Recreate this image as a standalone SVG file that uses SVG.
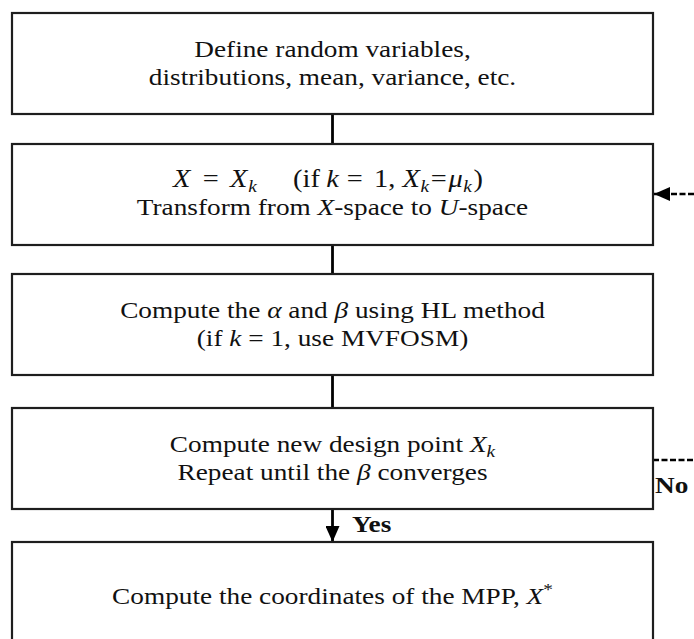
<svg xmlns="http://www.w3.org/2000/svg" width="694" height="639" viewBox="0 0 694 639">
<defs>
<style>
.box{fill:#fff;stroke:#1e1e1e;stroke-width:2.2}
.t{font-family:"Liberation Serif","Times New Roman",serif;font-size:24px;fill:#111;text-anchor:middle}
.m{font-family:"Liberation Serif","Times New Roman",serif;font-size:25px;fill:#111;text-anchor:start}
.lbl{font-family:"Liberation Serif","Times New Roman",serif;font-size:24px;font-weight:bold;fill:#111}
.i{font-style:italic}
.s{font-size:17px}
.con{stroke:#000;stroke-width:2.8;fill:none}
.dash{stroke:#000;stroke-width:2.6;fill:none;stroke-dasharray:6 2.5}
</style>
<marker id="ah" viewBox="0 0 16 14" refX="16" refY="7" markerWidth="16" markerHeight="14" markerUnits="userSpaceOnUse" orient="auto">
<path d="M0,0 L16,7 L0,14 Z" fill="#000"/>
</marker>
</defs>
<rect width="694" height="639" fill="#fff"/>
<g id="connectors">
<line class="con" x1="332.5" y1="114" x2="332.5" y2="144"/>
<line class="con" x1="332.5" y1="245" x2="332.5" y2="274"/>
<line class="con" x1="332.5" y1="375" x2="332.5" y2="408"/>
<line class="con" x1="332.5" y1="509" x2="332.5" y2="542" marker-end="url(#ah)"/>
<line class="dash" x1="694" y1="194" x2="654" y2="194" marker-end="url(#ah)"/>
<line class="dash" x1="653" y1="460" x2="694" y2="460"/>
<text class="lbl" x="349.6" y="532" transform="matrix(1.137 0 0 1 -45.55 0)">Yes</text>
<text class="lbl" x="616.1" y="493" transform="matrix(1.137 0 0 1 -45.55 0)">No</text>
</g>
<g id="node1">
<rect class="box" x="12" y="13" width="641" height="101"/>
<g transform="matrix(1.137 0 0 1 -45.55 0)">
<text class="t" x="332.5" y="57">Define random variables,</text>
<text class="t" x="332.5" y="85">distributions, mean, variance, etc.</text>
</g>
</g>
<g id="node2">
<rect class="box" x="12" y="144" width="641" height="101"/>
<g transform="matrix(1.137 0 0 1 -45.55 0)">
<text class="m" y="187"><tspan class="i" x="192.2">X</tspan><tspan x="218.5">=</tspan><tspan class="i" x="242.3">X</tspan><tspan class="i s" x="258.5" dy="5">k</tspan><tspan x="297.8" dy="-5">(if</tspan><tspan class="i" x="327">k</tspan><tspan x="345">=</tspan><tspan x="369">1,</tspan><tspan class="i" x="394">X</tspan><tspan class="i s" x="410" dy="5">k</tspan><tspan x="419" dy="-5">=</tspan><tspan class="i" x="434.5">μ</tspan><tspan class="i s" x="447.5" dy="5">k</tspan><tspan x="456.5" dy="-5">)</tspan></text>
<text class="t" x="332.5" y="215">Transform from <tspan class="i">X</tspan>-space to <tspan class="i">U</tspan>-space</text>
</g>
</g>
<g id="node3">
<rect class="box" x="12" y="274" width="641" height="101"/>
<g transform="matrix(1.137 0 0 1 -45.55 0)">
<text class="t" x="332.5" y="318">Compute the <tspan class="i">α</tspan> and <tspan class="i">β</tspan> using HL method</text>
<text class="t" x="332.5" y="346">(if <tspan class="i">k</tspan> = 1, use MVFOSM)</text>
</g>
</g>
<g id="node4">
<rect class="box" x="12" y="408" width="641" height="101"/>
<g transform="matrix(1.137 0 0 1 -45.55 0)">
<text class="t" x="332.5" y="452">Compute new design point <tspan class="i">X</tspan><tspan class="i s" dy="5">k</tspan></text>
<text class="t" x="332.5" y="480">Repeat until the <tspan class="i">β</tspan> converges</text>
</g>
</g>
<g id="node5">
<rect class="box" x="12" y="542" width="641" height="110"/>
<g transform="matrix(1.137 0 0 1 -45.55 0)">
<text class="t" x="332.5" y="604">Compute the coordinates of the MPP, <tspan class="i">X</tspan><tspan class="s" dy="-9">*</tspan></text>
</g>
</g>
</svg>
